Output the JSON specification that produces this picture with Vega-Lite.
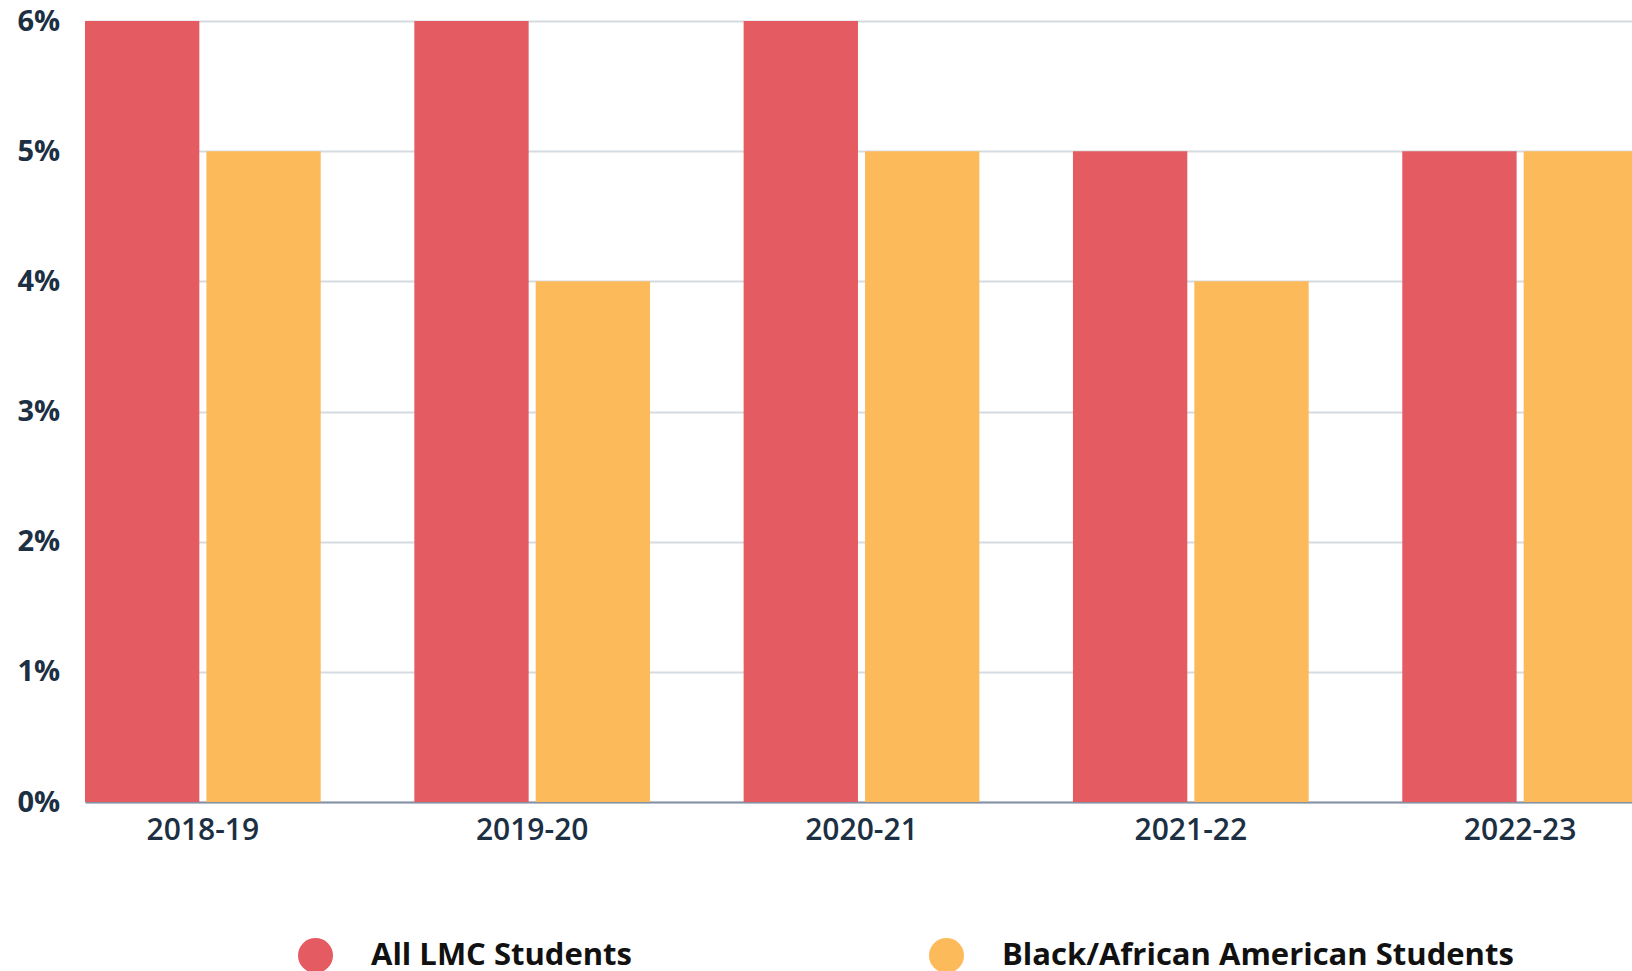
{
  "$schema": "https://vega.github.io/schema/vega-lite/v6.json",
  "autosize": {"type": "none"},
  "width": 1547,
  "height": 781,
  "padding": {"left": 85, "top": 21, "right": 0, "bottom": 169},
  "background": "white",
  "config": {
    "view": {"stroke": null},
    "font": "Open Sans"
  },
  "data": {
    "values": [
      {"year": "2018-19", "group": "All LMC Students", "pct": 6},
      {"year": "2018-19", "group": "Black/African American Students", "pct": 5},
      {"year": "2019-20", "group": "All LMC Students", "pct": 6},
      {"year": "2019-20", "group": "Black/African American Students", "pct": 4},
      {"year": "2020-21", "group": "All LMC Students", "pct": 6},
      {"year": "2020-21", "group": "Black/African American Students", "pct": 5},
      {"year": "2021-22", "group": "All LMC Students", "pct": 5},
      {"year": "2021-22", "group": "Black/African American Students", "pct": 4},
      {"year": "2022-23", "group": "All LMC Students", "pct": 5},
      {"year": "2022-23", "group": "Black/African American Students", "pct": 5}
    ]
  },
  "mark": {"type": "bar"},
  "encoding": {
    "x": {
      "field": "year",
      "type": "nominal",
      "sort": null,
      "scale": {"range": [0, 1553], "paddingInner": 0.2842, "paddingOuter": 0},
      "axis": {
        "title": null,
        "labelAngle": 0,
        "ticks": false,
        "grid": false,
        "domain": true,
        "domainColor": "#8592a3",
        "domainWidth": 2,
        "labelFont": "Open Sans",
        "labelFontSize": 30,
        "labelFontWeight": 600,
        "labelColor": "#1c2f43",
        "labelPadding": 13
      }
    },
    "xOffset": {
      "field": "group",
      "type": "nominal",
      "sort": ["All LMC Students", "Black/African American Students"],
      "scale": {"paddingInner": 0.058, "paddingOuter": 0}
    },
    "y": {
      "field": "pct",
      "type": "quantitative",
      "scale": {"domain": [0, 6], "nice": false},
      "axis": {
        "title": null,
        "values": [0, 1, 2, 3, 4, 5, 6],
        "labelExpr": "datum.value + '%'",
        "ticks": false,
        "domain": false,
        "grid": true,
        "gridColor": "#d6dbe1",
        "gridWidth": 2,
        "labelAlign": "left",
        "labelBaseline": "middle",
        "labelPadding": 68,
        "labelFont": "Open Sans",
        "labelFontSize": 29,
        "labelFontWeight": "bold",
        "labelColor": "#1c2f43"
      }
    },
    "color": {
      "field": "group",
      "type": "nominal",
      "sort": ["All LMC Students", "Black/African American Students"],
      "scale": {
        "domain": ["All LMC Students", "Black/African American Students"],
        "range": ["#e55b62", "#fcba5a"]
      },
      "legend": {
        "title": null,
        "orient": "none",
        "direction": "horizontal",
        "columns": 2,
        "legendX": 213,
        "legendY": 917,
        "padding": 0,
        "symbolType": "circle",
        "symbolSize": 1225,
        "symbolStrokeWidth": 0,
        "labelOffset": 38,
        "columnPadding": 297,
        "labelFont": "Open Sans",
        "labelFontSize": 31,
        "labelFontWeight": "bold",
        "labelColor": "#111111",
        "labelLimit": 0
      }
    }
  }
}
